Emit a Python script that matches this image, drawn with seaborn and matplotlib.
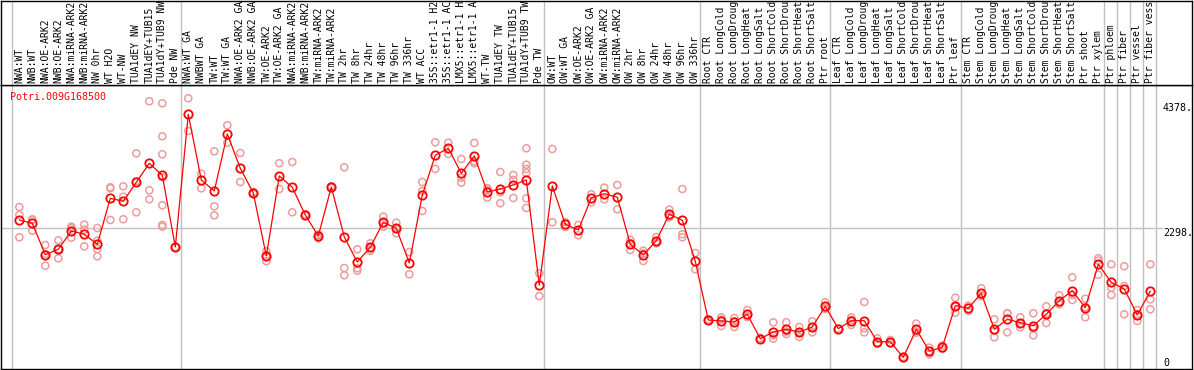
import numpy as np
import pandas as pd
import matplotlib
matplotlib.use("Agg")
import matplotlib.pyplot as plt
import matplotlib.transforms as mtransforms
import seaborn as sns

# sample names as shown in the header (truncated like the original)
samples = [
    "NWA:WT", "NWB:WT", "NWA:OE-ARK2", "NWB:OE-ARK2", "NWA:miRNA-ARK2", "NWB:miRNA-ARK2",
    "NW 0hr", "WT H2O", "WT-NW", "TUA1dEY NW", "TUA1dEY+TUB15", "TUA1dY+TUB9 NW", "Pde NW",
    "NWA:WT GA", "NWBWT GA", "TW:WT", "TW:WT GA", "NWA:OE-ARK2 GA", "NWB:OE-ARK2 GA",
    "TW:OE-ARK2", "TW:OE-ARK2 GA", "NWA:miRNA-ARK2", "NWB:miRNA-ARK2", "TW:miRNA-ARK2",
    "TW:miRNA-ARK2", "TW 2hr", "TW 8hr", "TW 24hr", "TW 48hr", "TW 96hr", "TW 336hr",
    "WT ACC", "35S::etr1-1 H2", "35S::etr1-1 AC", "LMX5::etr1-1 H", "LMX5::etr1-1 A",
    "WT-TW", "TUA1dEY TW", "TUA1dEY+TUB15", "TUA1dY+TUB9 TW", "Pde TW",
    "OW:WT", "OW:WT GA", "OW:OE-ARK2", "OW:OE-ARK2 GA", "OW:miRNA-ARK2", "OW:miRNA-ARK2",
    "OW 2hr", "OW 8hr", "OW 24hr", "OW 48hr", "OW 96hr", "OW 336hr",
    "Root CTR", "Root LongCold", "Root LongDroug", "Root LongHeat", "Root LongSalt",
    "Root ShortCold", "Root ShortDrou", "Root ShortHeat", "Root ShortSalt", "Ptr root",
    "Leaf CTR", "Leaf LongCold", "Leaf LongDroug", "Leaf LongHeat", "Leaf LongSalt",
    "Leaf ShortCold", "Leaf ShortDrou", "Leaf ShortHeat", "Leaf ShortSalt", "Ptr leaf",
    "Stem CTR", "Stem LongCold", "Stem LongDroug", "Stem LongHeat", "Stem LongSalt",
    "Stem ShortCold", "Stem ShortDrou", "Stem ShortHeat", "Stem ShortSalt", "Ptr shoot",
    "Ptr xylem", "Ptr phloem", "Ptr fiber", "Ptr vessel", "Ptr fiber vess",
]

# group sizes -> separator lines
group_sizes = [13, 28, 12, 10, 10, 11, 1, 1, 1, 1]

means = [
    2436, 2381, 1859, 1949, 2253, 2198, 2032, 2797, 2747, 3063, 3380, 3180, 1987,
    4195, 3102, 2919, 3867, 3296, 2885, 1837, 3168, 2980, 2519, 2170, 2985, 2153, 1737,
    1982, 2398, 2298, 1721, 2852, 3513, 3629, 3213, 3501, 2902, 2952, 3019, 3102, 1354,
    3002, 2364, 2270, 2802, 2874, 2814, 2032, 1854, 2092, 2531, 2431, 1749,
    772, 756, 739, 867, 461, 572, 617, 572, 656, 1000,
    628, 761, 761, 411, 411, 150, 617, 256, 317, 1010,
    967, 1216, 617, 784, 727, 677, 867, 1093, 1260, 977, 1699,
    1399, 1288, 855, 1255,
]

replicates = [
    [2652, 2519, 2148], [2448, 2258, 2430], [2020, 1676, 1870], [2098, 1799, 1950],
    [2325, 2298, 2142], [2358, 2275, 1998], [2303, 2092, 1954, 1832], [2980, 2964, 2436],
    [2997, 2824, 2448], [3546, 2564, 3080], [4411, 2930, 2780],
    [4378, 3829, 3529, 3147, 2681, 2353, 2325], [1987],
    [4461, 3917], [3206, 2964], [3579, 2664, 2514], [4012, 3723], [3551, 3068],
    [2900, 2870], [1915, 1749, 1847], [3380, 2952], [3401, 2564], [2530, 2508],
    [2132, 2195, 2183], [3000, 2970], [3313, 1637, 1516], [1949, 1632, 1593],
    [2048, 1925, 1973], [2491, 2325, 2380], [2391, 2215, 2290], [1904, 1533],
    [3068, 2919, 2586], [3729, 3285], [3723, 3534], [3451, 3140, 3057], [3717, 3380, 3410],
    [2935, 2807, 2965], [3235, 2897, 2714], [3185, 3102, 2802],
    [3629, 3356, 3285, 3220, 2797, 2636], [1549, 1171],
    [3618, 2398], [2398, 2320], [2353, 2182], [2864, 2731], [2974, 2780], [3019, 2614],
    [2103, 1937, 2050], [1925, 1754, 1880], [2153, 2048, 2075], [2608, 2481, 2510],
    [2952, 2198, 2148], [1887, 1616],
    [760, 785], [817, 672, 780], [806, 656, 750], [938, 820, 845], [445, 475],
    [734, 461, 520], [734, 539, 580], [656, 489, 570], [751, 567, 650], [1067, 980, 955],
    [628], [817, 689, 775], [1072, 634, 567], [467, 380, 390], [440, 385], [140, 160],
    [711, 560, 580], [312, 201, 255], [345, 290], [1143, 893, 995],
    [1010, 925], [1300, 1170, 1180], [784, 484, 590], [884, 884, 567], [817, 650, 715],
    [884, 517, 630], [1000, 722, 880], [1183, 1033, 1065], [1482, 1105, 1190],
    [1127, 817, 985], [1799, 1760, 1526],
    [1699, 1310, 1188], [1666, 1338, 867], [938, 756, 870], [1699, 1116, 950],
]

gene = "Potri.009G168500"
ytick_vals = [4378, 2298, 0]
ytick_text = ["4378.", "2298.", "0"]

# long tables for seaborn
df_mean = pd.DataFrame({"pos": np.arange(len(samples)), "value": means})
df_rep = pd.DataFrame(
    [(i, v) for i, reps in enumerate(replicates) for v in reps], columns=["pos", "value"]
)

W, H = 1194, 370
fig = plt.figure(figsize=(W / 100, H / 100), dpi=100)
sns.set_style("white")
plt.rcParams["font.family"] = ["DejaVu Sans Mono"]

top_px, bot_px, left_px, right_px = 85, 369, 1, 1192
ax = fig.add_axes([left_px / W, (H - bot_px) / H, (right_px - left_px) / W, (bot_px - top_px) / H])
axh = fig.add_axes([left_px / W, (H - top_px) / H, (right_px - left_px) / W, (top_px - 0.5) / H], sharex=ax)

# pixel mapping: column i centre at 19.3 + 13 i
xmin = (left_px - 19.3) / 13
xmax = (right_px - 19.3) / 13
ax.set_xlim(xmin, xmax)
ax.set_ylim(-43, 4682)

grey = "#C0C0C0"
bounds = np.concatenate([[0], np.cumsum(group_sizes)])
for b in bounds:
    ax.axvline(b - 0.6, color=grey, lw=1.0, zorder=0)
    axh.axvline(b - 0.6, color=grey, lw=1.0, zorder=0)
ax.plot([xmin, (1162 - 19.3) / 13], [2298, 2298], color=grey, lw=1.0, zorder=0)

sns.scatterplot(data=df_rep, x="pos", y="value", ax=ax, marker="o", s=26,
                facecolors="none", edgecolor="#EC9C9C", linewidth=1.1, zorder=2, legend=False)
sns.lineplot(data=df_mean, x="pos", y="value", ax=ax, color="red", lw=0.9,
             marker="o", markersize=6, markerfacecolor="none",
             markeredgecolor="red", markeredgewidth=1.3, zorder=3, legend=False)

ax.set_xlabel("")
ax.set_ylabel("")
ax.set_xticks([])
ax.set_yticks([])
for s in ax.spines.values():
    s.set_color("black")
    s.set_linewidth(1.0)

trans = mtransforms.blended_transform_factory(ax.transAxes, ax.transData)
for v, t in zip(ytick_vals, ytick_text):
    yy = max(v, 150)
    ax.text((1163 - left_px) / (right_px - left_px), yy + (-10 if v == 0 else 0), t,
            transform=trans, ha="left", va="top", fontsize=7.2, color="black")

ax.text((10 - left_px) / (right_px - left_px), 1 - 7 / (bot_px - top_px), gene,
        transform=ax.transAxes, ha="left", va="top", fontsize=7.2, color="red")

# header with rotated sample names
axh.set_ylim(0, 1)
axh.set_xticks([])
axh.set_yticks([])
for s in axh.spines.values():
    s.set_color("black")
    s.set_linewidth(1.0)
htrans = axh.get_xaxis_transform()
for i, name in enumerate(samples):
    axh.text(i, 2 / top_px, name, transform=htrans, rotation=90, ha="center", va="bottom",
             fontsize=7.0, color="black")

fig.savefig("out.png", dpi=100)
